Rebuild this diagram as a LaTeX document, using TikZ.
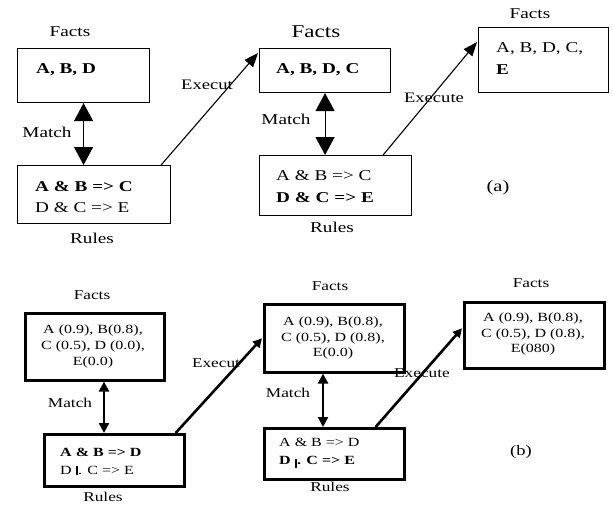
\documentclass[tikz,border=0pt]{standalone}
\usepackage{fontspec}
\setmainfont{Liberation Serif}[FakeStretch=1.28]
\usetikzlibrary{arrows.meta,calc}
\newcommand{\fs}[2]{\fontsize{#1}{#2}\selectfont}
\newcommand{\barmark}[1]{\rule[#1]{2.4pt}{9.5pt}}
\begin{document}
\begin{tikzpicture}[x=1pt,y=-1pt,
  boxa/.style={draw, line width=1.1pt, inner sep=0pt, rectangle, anchor=north west},
  boxb/.style={draw, line width=2.6pt, inner sep=0pt, rectangle, anchor=north west},
  lbl/.style={inner sep=0pt, anchor=center},
  txt/.style={inner sep=0pt, anchor=west, align=left},
  ctxt/.style={inner sep=0pt, anchor=center, align=center},
  bigmatch/.style={line width=1.1pt, {Triangle[width=19pt,length=18pt]}-{Triangle[width=19pt,length=18pt]}},
  smallmatch/.style={line width=2.4pt, {Triangle[width=10pt,length=10pt]}-{Triangle[width=10pt,length=10pt]}},
  exea/.style={line width=1.1pt, -{Triangle[width=11pt,length=14pt]}},
  exeb/.style={line width=2.6pt, -{Triangle[width=9pt,length=9pt]}}
]
\path[use as bounding box, fill=white] (0,0) rectangle (613,506);

% ---------------- (a) ----------------
\node[boxa, minimum width=132pt, minimum height=54pt] (F1) at (17,48) {};
\node[boxa, minimum width=153pt, minimum height=58pt] (R1) at (17,165) {};
\node[boxa, minimum width=131pt, minimum height=44pt] (F2) at (259,48) {};
\node[boxa, minimum width=152pt, minimum height=60pt] (R2) at (259,155) {};
\node[boxa, minimum width=130pt, minimum height=65pt] (F3) at (478,27) {};

\node[txt, font=\fs{15}{18}\bfseries] (f1t) at (36,70) {A, B, D};
\node[txt, font=\fs{15}{21}] (r1t) at (35,197.5) {\textbf{A \& B => C}\\ D \& C => E};
\node[txt, font=\fs{15}{18}\bfseries] (f2t) at (276,70) {A, B, D, C};
\node[txt, font=\fs{15}{22}] (r2t) at (276,187) {A \& B => C\\ \textbf{D \& C => E}};
\node[txt, font=\fs{15}{22}] (f3t) at (496,59) {A, B, D, C,\\ \textbf{E}};

\node[lbl, font=\fs{15}{18}] (fl1) at (70,32) {Facts};
\node[lbl, font=\fs{18}{21}] (fl2) at (316,32) {Facts};
\node[lbl, font=\fs{15}{18}] (fl3) at (530,14) {Facts};
\node[lbl, font=\fs{15}{18}] (rl1) at (92,238) {Rules};
\node[lbl, font=\fs{15}{18}] (rl2) at (332,227) {Rules};
\node[lbl, font=\fs{15}{18}] (ml1) at (47,132) {Match};
\node[lbl, font=\fs{15}{18}] (ml2) at (286,119) {Match};
\node[lbl, font=\fs{14.5}{18}] (el1) at (207,85) {Execut};
\node[lbl, font=\fs{14.5}{18}] (el2) at (434,98) {Execute};
\node[lbl, font=\fs{16}{18}] (la) at (498,188) {(a)};

\draw[bigmatch] (F1.south) -- (F1.south |- R1.north);
\draw[bigmatch] (F2.south) -- (F2.south |- R2.north);
\draw[exea] ($(R1.north east)+(-10,0)$) -- ($(F2.north west)+(-1,5)$);
\draw[exea] ($(R2.north east)+(-29,0)$) -- ($(F3.north west)+(-1,15)$);

% ---------------- (b) ----------------
\node[boxb, minimum width=139pt, minimum height=67pt] (F4) at (24,312) {};
\node[boxb, minimum width=140pt, minimum height=52pt] (R4) at (43,433) {};
\node[boxb, minimum width=140pt, minimum height=68pt] (F5) at (263,303) {};
\node[boxb, minimum width=140pt, minimum height=51pt] (R5) at (263,427) {};
\node[boxb, minimum width=140pt, minimum height=66pt] (F6) at (463,301) {};

\node[ctxt, font=\fs{12.5}{16}] (f4t) at (93,346) {A (0.9), B(0.8),\\ C (0.5), D (0.0),\\ E(0.0)};
\node[ctxt, font=\fs{12.5}{15.5}] (f5t) at (333,338) {A (0.9), B(0.8),\\ C (0.5), D (0.8),\\ E(0.0)};
\node[ctxt, font=\fs{12.5}{15.5}] (f6t) at (533,334) {A (0.9), B(0.8),\\ C (0.5), D (0.8),\\ E(080)};
\node[txt, font=\fs{12.5}{18}] (r4t) at (60,461.5) {\textbf{A \& B => D}\\ D \barmark{-1pt}. C => E};
\node[txt, font=\fs{12.5}{18}] (r5t) at (279,453) {A \& B => D\\ \textbf{D \barmark{-4pt}. C => E}};

\node[lbl, font=\fs{13.5}{16}] (fl4) at (92,295) {Facts};
\node[lbl, font=\fs{13.5}{16}] (fl5) at (330,286) {Facts};
\node[lbl, font=\fs{13.5}{16}] (fl6) at (531,283) {Facts};
\node[lbl, font=\fs{13.5}{16}] (rl4) at (103,497) {Rules};
\node[lbl, font=\fs{13.5}{16}] (rl5) at (330,487) {Rules};
\node[lbl, font=\fs{13.5}{16}] (ml4) at (70,403) {Match};
\node[lbl, font=\fs{13.5}{16}] (ml5) at (288,393) {Match};
\node[lbl, font=\fs{13.5}{16}] (el4) at (216,363) {Execut};
\node[lbl, font=\fs{13.5}{16}] (el5) at (422,373) {Execute};
\node[lbl, font=\fs{14.5}{16}] (lb) at (521,452) {(b)};

\draw[smallmatch] ($(F4.south west)+(80,0)$) -- ($(R4.north west)+(61,0)$);
\draw[smallmatch] ($(F5.south west)+(60,0)$) -- ($(R5.north west)+(60,0)$);
\draw[exeb] ($(R4.north east)+(-10,0)$) -- ($(F5.west)+(-1,0)$);
\draw[exeb] ($(R5.north east)+(-30,0)$) -- ($(F6.west)+(-1,-7)$);
\end{tikzpicture}
\end{document}
